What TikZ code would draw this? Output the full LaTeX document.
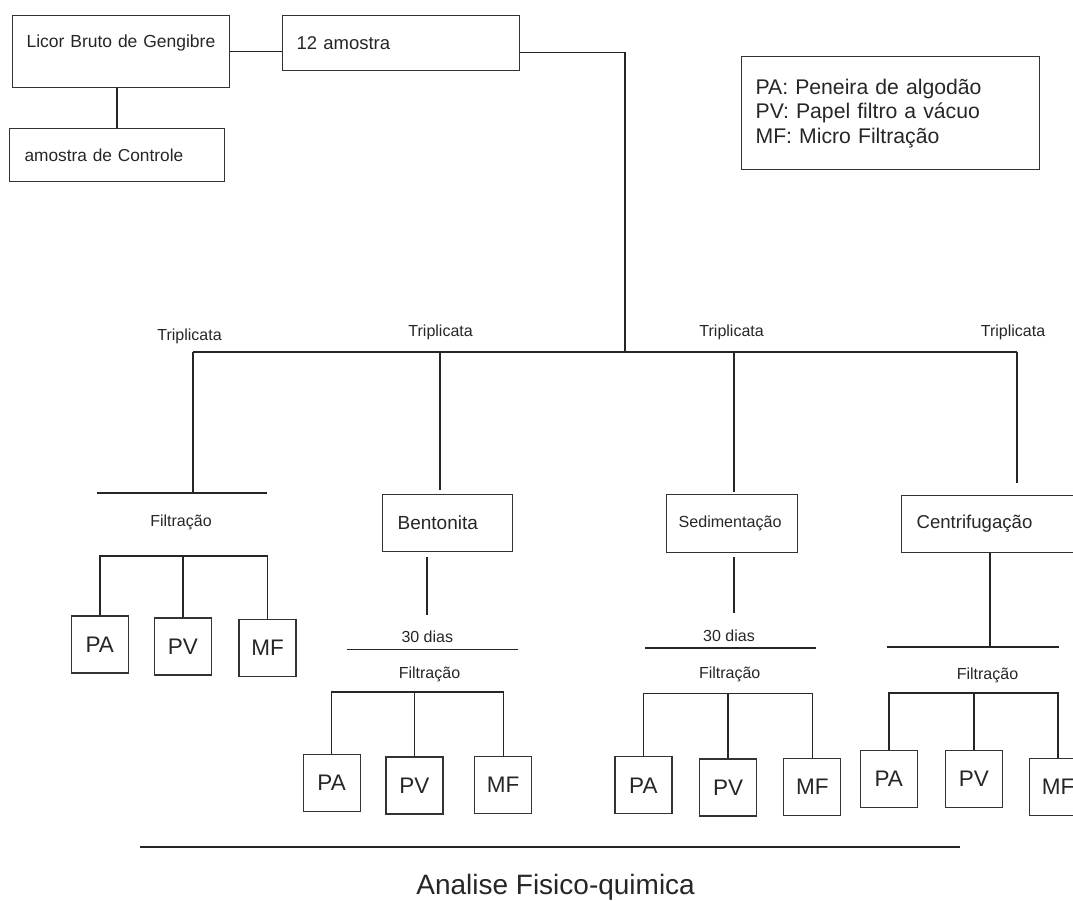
\documentclass[tikz,border=0pt]{standalone}
\usepackage{fontspec}
\setmainfont{Liberation Sans}

\begin{document}
\begin{tikzpicture}[x=1pt,y=-1pt]

\tikzset{box/.style = {shape=rectangle,draw=black!80,line width=1.2pt,text=black!85,align=left,inner ysep=0pt,anchor=north west}}
\tikzset{sample/.style = {shape=rectangle,draw=black!80,line width=1.2pt,text=black!85,minimum width=57pt,minimum height=57pt,font=\fontsize{22.5}{27}\selectfont}}
\tikzset{small/.style = {text=black!85,inner sep=0pt,anchor=base,font=\fontsize{16}{19}\selectfont}}
\tikzset{edge/.style = {draw=black!85,line width=1.4pt}}

\useasboundingbox (0,0) rectangle (1073,900);

%boxes
\node[box, inner xsep=14pt, text width=189pt, text height=32pt, text depth=40pt, font=\fontsize{17.5}{21}\selectfont] (licor) at (12,15) {Licor Bruto de Gengibre};
\node[box, inner xsep=14pt, text width=209pt, minimum height=55pt, font=\fontsize{18.5}{22}\selectfont] (amostra) at (282,15) {12 amostra};
\node[box, inner xsep=15pt, text width=185pt, minimum height=53pt, font=\fontsize{17.3}{21}\selectfont] (controle) at (9,128) {amostra de Controle};
\node[box, inner xsep=14pt, text width=270pt, minimum height=113pt, font=\fontsize{21.2}{24.5}\selectfont] (legenda) at (741,56) {PA: Peneira de algodão\\PV: Papel filtro a vácuo\\MF: Micro Filtração};
\node[box, inner xsep=15pt, text width=100pt, minimum height=57pt, font=\fontsize{19}{23}\selectfont] (bentonita) at (382,494) {Bentonita};
\node[box, inner xsep=12pt, text width=107pt, minimum height=58pt, font=\fontsize{16.1}{19}\selectfont] (sedimentacao) at (666,494) {Sedimentação};
\node[box, inner xsep=15pt, text width=155pt, minimum height=57pt, font=\fontsize{18.6}{22}\selectfont] (centrifugacao) at (901,495) {Centrifugação};

%samples
\node[sample] (pa1) at (99.8,644.5) {PA};
\node[sample] (pv1) at (182.8,646.5) {PV};
\node[sample] (mf1) at (267.5,648) {MF};
\node[sample] (pa2) at (331.6,783) {PA};
\node[sample] (pv2) at (414.4,785.4) {PV};
\node[sample] (mf2) at (503.2,785.2) {MF};
\node[sample] (pa3) at (643.4,785.3) {PA};
\node[sample] (pv3) at (728,787.5) {PV};
\node[sample] (mf3) at (812.3,787) {MF};
\node[sample] (pa4) at (888.8,779.2) {PA};
\node[sample] (pv4) at (973.9,779.2) {PV};
\node[sample] (mf4) at (1058,786.7) {MF};

%labels
\node[small] (trip1) at (189.5,340.5) {Triplicata};
\node[small] (trip2) at (440.6,336) {Triplicata};
\node[small] (trip3) at (731.6,336) {Triplicata};
\node[small] (trip4) at (1013,336) {Triplicata};
\node[small] (filt1) at (181,526.5) {Filtração};
\node[small] (dias2) at (427.3,642) {30 dias};
\node[small] (filt2) at (429.5,678) {Filtração};
\node[small] (dias3) at (729,641) {30 dias};
\node[small] (filt3) at (729.7,678) {Filtração};
\node[small] (filt4) at (987.5,679) {Filtração};
\node[text=black!85, anchor=base, font=\fontsize{28}{33}\selectfont] (analise) at (555.6,894) {Analise Fisico-quimica};

%junctions
\coordinate (t0) at (625,352);
\coordinate (t1) at (193,352);
\coordinate (t2) at (440,352);
\coordinate (t3) at (734,352);
\coordinate (t4) at (1017,352);
\coordinate (b1) at (193,493);
\coordinate (b1l) at (96.5,493);
\coordinate (b1r) at (267.3,493);
\coordinate (d2) at (427,615);
\coordinate (d3) at (734,613);
\coordinate (d4) at (990,647);
\coordinate (b2l) at (347.3,649.5);
\coordinate (b2r) at (518,649.5);
\coordinate (b3l) at (645.4,648);
\coordinate (b3r) at (816,648);
\coordinate (b4l) at (887,647);
\coordinate (b4r) at (1058.5,647);
\coordinate (f1) at (184,556);
\coordinate (f2) at (414,692);
\coordinate (f3) at (728,693.5);
\coordinate (f4) at (974,693);
\coordinate (e1) at (140,847);
\coordinate (e2) at (960,847);

%edges
\draw[edge] (licor.east) -- (licor.east -| amostra.west);
\draw[edge] (licor.south -| controle.north) -- (controle.north);
\draw[edge] ([yshift=-9.5pt]amostra.east) -| (t0);
\draw[edge] (t1) -- (t4);
\draw[edge] (t1) -- (b1);
\draw[edge] (b1l) -- (b1r);
\draw[edge, shorten >=4pt] (t2) -- (bentonita.north -| t2);
\draw[edge, shorten >=2.5pt] (t3) -- (sedimentacao.north -| t3);
\draw[edge, shorten >=12pt] (t4) -- (centrifugacao.north -| t4);
\draw[edge, shorten <=5pt] (bentonita.south -| d2) -- (d2);
\draw[edge, shorten <=4pt] (sedimentacao.south -| d3) -- (d3);
\draw[edge] (centrifugacao.south -| d4) -- (d4);
\draw[edge] (b2l) -- (b2r);
\draw[edge] (b3l) -- (b3r);
\draw[edge] (b4l) -- (b4r);
\draw[edge] (pa1.north) |- (f1) -| (mf1.north);
\draw[edge] (pv1.north) -- (pv1.north |- f1);
\draw[edge] (pa2.north) |- (f2) -| (mf2.north);
\draw[edge] (pv2.north) -- (pv2.north |- f2);
\draw[edge] (pa3.north) |- (f3) -| (mf3.north);
\draw[edge] (pv3.north) -- (pv3.north |- f3);
\draw[edge] (pa4.north) |- (f4) -| (mf4.north);
\draw[edge] (pv4.north) -- (pv4.north |- f4);
\draw[edge] (e1) -- (e2);

\end{tikzpicture}
\end{document}
